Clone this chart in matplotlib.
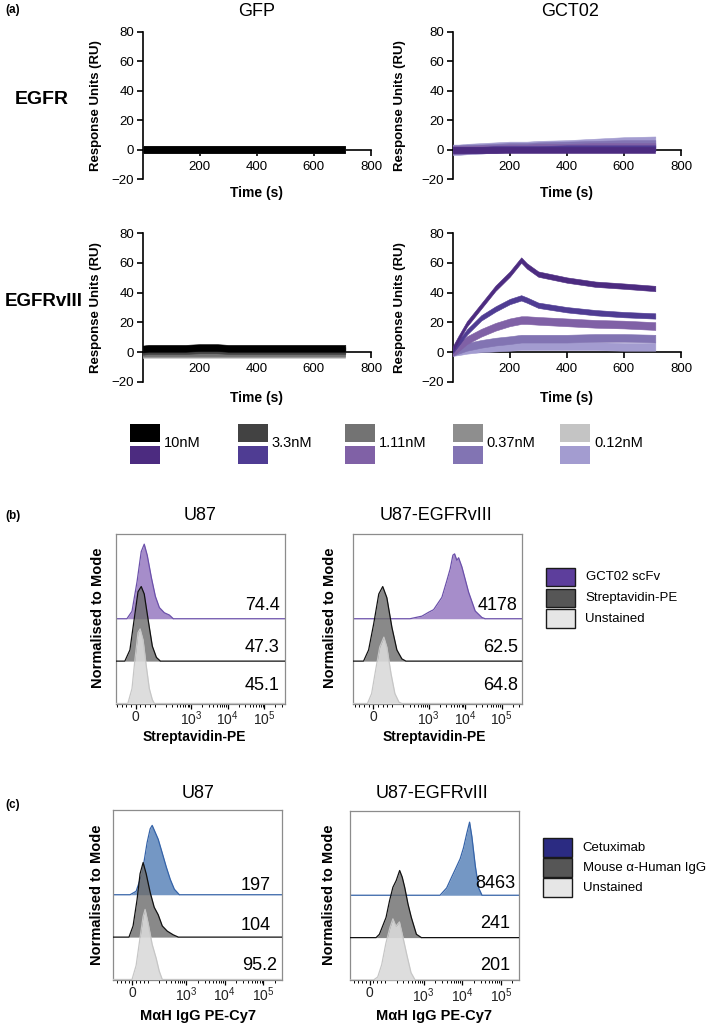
import numpy as np
import matplotlib
matplotlib.use("Agg")
import matplotlib.pyplot as plt
from matplotlib.patches import Rectangle

plt.rcParams['font.family'] = ['Liberation Sans', 'DejaVu Sans']
plt.rcParams['mathtext.fontset'] = 'custom'
plt.rcParams['mathtext.rm'] = 'Liberation Sans'
plt.rcParams['mathtext.it'] = 'Liberation Sans:italic'
plt.rcParams['mathtext.bf'] = 'Liberation Sans:bold'

W, H = 709, 1028

# ---------------- (a) SPR sensorgrams ----------------
t_s = [0, 20, 50, 100, 150, 200, 240, 260, 300, 400, 500, 600, 710]
conc = ['10nM', '3.3nM', '1.11nM', '0.37nM', '0.12nM']
grey = ['#000000', '#424242', '#737373', '#8e8e8e', '#c4c4c4']
purple = ['#4c2b80', '#4f3c93', '#8061a6', '#8274b3', '#a39cd0']

# GFP on EGFR
gfp_egfr = [
    [0, 0, 0, 0, 0, 0, 0, 0, 0, 0, 0, 0, 0],
    [0, 0, 0, 0, 0, 0, 0, 0, 0, 0, 0, 0, 0],
    [0, 0, 0, 0, 0, 0, 0, 0, 0, 0, 0, 0, 0],
    [0, 0, 0, 0, 0, 0, 0, 0, 0, 0, 0, 0, 0],
    [0, 0, 0, 0, 0, 0, 0, 0, 0, 0, 0, 0, 0],
]
gfp_egfr_nz = [2.3, 2.3, 2.3, 2.3, 2.3]

# GCT02 on EGFR
gct_egfr = [
    [0, 0, 0, 0, 0, 0, 0, 0, 0, 0, 0, 0, 0],
    [0, 0, 0, 0, 0.5, 0.5, 0.5, 0.5, 0.5, 1, 1, 1, 1],
    [0, 0, 0, 0.5, 0.5, 1, 1, 1, 1.5, 1.5, 2, 2, 2],
    [0, 0, 0.5, 0.5, 1, 1.5, 1.5, 1.5, 2, 2.5, 3, 3.5, 3.5],
    [0, 0, 0.5, 1, 1.5, 2, 2, 2, 2.5, 3, 4, 5, 5.5],
]
gct_egfr_nz = [2, 2, 2.5, 3, 3.5]

# GFP on EGFRvIII
gfp_viii = [
    [2, 2.5, 2.5, 2.5, 2.5, 3, 3, 3, 2.5, 2.5, 2.5, 2.5, 2.5],
    [0.5, 1, 1, 1, 1, 1.5, 1.5, 1.5, 1, 1, 1, 1, 1],
    [0, 0, 0, 0, 0, 0, 0, 0, 0, 0, 0, 0, 0],
    [-1, -1, -1, -1, -1, -1, -1, -1, -1, -1, -1, -1, -1],
    [-1.5, -1.5, -1.5, -1.5, -1.5, -1.5, -1.5, -1.5, -1.5, -1.5, -1.5, -1.5, -1.5],
]
gfp_viii_nz = [2.3, 2.3, 2.5, 2.5, 2.5]

# GCT02 on EGFRvIII
gct_viii = [
    [2, 9, 19, 31, 43, 52.5, 62, 58, 52.5, 48.5, 45.7, 44.4, 42.8],
    [1, 6, 13.5, 23, 29, 34, 36.5, 35, 31.5, 28.5, 26.5, 25.2, 24.3],
    [0, 3, 8, 13, 17, 20, 21.5, 21.5, 21, 20, 19, 18.5, 17.5],
    [0, 1.5, 3.5, 5.5, 7, 8, 9, 9, 9, 9, 9.5, 9.5, 9],
    [0, 0.5, 1.5, 2.5, 3, 3.5, 4, 4, 4, 4, 4, 3.5, 3.5],
]
gct_viii_nz = [1.8, 1.8, 2.6, 2.6, 2.6]

# ---------------- (b) Streptavidin-PE histograms ----------------
b_u87_gct_x = [-47, -20, 7, 29, 45, 61, 83, 105, 135, 185, 253, 325]
b_u87_gct_h = [0, 0.1, 0.5, 0.9, 1.0, 0.85, 0.55, 0.3, 0.15, 0.08, 0.05, 0]
b_u87_str_x = [-58, -31, -9, 12, 29, 45, 66, 88, 112, 144]
b_u87_str_h = [0, 0.15, 0.55, 0.93, 1.0, 0.9, 0.55, 0.2, 0.05, 0]
b_u87_uns_x = [-42, -20, -4, 12, 23, 39, 56, 72, 88, 99]
b_u87_uns_h = [0, 0.2, 0.6, 0.95, 1.0, 0.85, 0.5, 0.2, 0.05, 0]

b_viii_gct_x = [308, 655, 1000, 1371, 2312, 3170, 3907, 4634, 5152, 5960,
                6637, 8166, 12470, 18920, 28840, 35560]
b_viii_gct_h = [0, 0.04, 0.1, 0.14, 0.33, 0.59, 0.77, 0.98, 1.0, 0.9,
                0.94, 0.8, 0.41, 0.12, 0.02, 0]
b_viii_gct_peak = 0.87
b_viii_str_x = [-52, -25, 2, 29, 50, 72, 99, 135, 185, 239]
b_viii_str_h = [0, 0.15, 0.5, 0.9, 1.0, 0.85, 0.45, 0.15, 0.03, 0]
b_viii_uns_x = [-31, -9, 12, 34, 56, 72, 94, 119, 154, 185]
b_viii_uns_h = [0, 0.15, 0.5, 0.85, 1.0, 0.85, 0.45, 0.15, 0.02, 0]
b_viii_uns_peak = 0.89

b_mfi_u87 = ['74.4', '47.3', '45.1']
b_mfi_viii = ['4178', '62.5', '64.8']
b_legend = ['GCT02 scFv', 'Streptavidin-PE', 'Unstained']

# ---------------- (c) MaH IgG PE-Cy7 histograms ----------------
c_u87_cet_x = [-15, 25, 64, 97, 117, 132, 158, 189, 241, 306, 389, 495, 668]
c_u87_cet_h = [0, 0.05, 0.3, 0.75, 0.95, 1.0, 0.9, 0.8, 0.6, 0.4, 0.22, 0.08, 0]
c_u87_cet_peak = 0.93
c_u87_mou_x = [-22, 5, 31, 51, 71, 91, 117, 149, 189, 241, 325, 466, 630]
c_u87_mou_h = [0, 0.15, 0.5, 0.85, 1.0, 0.85, 0.6, 0.4, 0.3, 0.15, 0.08, 0.03, 0]
c_u87_uns_x = [-2, 25, 51, 71, 84, 104, 132, 168, 201, 241]
c_u87_uns_h = [0, 0.2, 0.6, 0.9, 1.0, 0.8, 0.5, 0.3, 0.12, 0]
c_u87_uns_peak = 0.94

c_viii_cet_x = [2667, 3963, 5346, 6559, 8870, 10810, 13190, 15520, 17820,
                21840, 26650, 32520]
c_viii_cet_h = [0, 0.1, 0.25, 0.35, 0.5, 0.65, 0.85, 1.0, 0.8, 0.4, 0.1, 0]
c_viii_cet_peak = 0.98
c_viii_mou_x = [42, 64, 107, 132, 161, 196, 241, 281, 325, 396, 483, 653, 881]
c_viii_mou_h = [0, 0.05, 0.3, 0.55, 0.75, 0.85, 1.0, 0.9, 0.75, 0.5, 0.3, 0.05, 0]
c_viii_mou_peak = 0.9
c_viii_uns_x = [26, 53, 79, 106, 134, 161, 193, 238, 293, 373, 474, 604]
c_viii_uns_h = [0, 0.05, 0.25, 0.6, 0.85, 1.0, 0.88, 0.95, 0.7, 0.4, 0.12, 0]
c_viii_uns_peak = 0.82

c_mfi_u87 = ['197', '104', '95.2']
c_mfi_viii = ['8463', '241', '201']
c_legend = ['Cetuximab', 'Mouse \u03b1-Human IgG', 'Unstained']

flow_ticks = [0, 1e3, 1e4, 1e5]
flow_ticklabels = ['0', '$10^3$', '$10^4$', '$10^5$']


fig = plt.figure(figsize=(W / 100, H / 100), dpi=100)


def px_axes(x0, y0, x1, y1):
    return fig.add_axes([x0 / W, 1 - y1 / H, (x1 - x0) / W, (y1 - y0) / H])


def spr_axes(box, curves, noise, cols):
    ax = px_axes(*box)
    for yc, nz, c in list(zip(curves, noise, cols))[::-1]:
        yc = np.array(yc, dtype=float)
        ax.fill_between(t_s, yc - nz, yc + nz, color=c, lw=0.4, zorder=3)
    ax.set_xlim(0, 800)
    ax.set_ylim(-20, 80)
    ax.spines['bottom'].set_position(('data', 0))
    ax.spines[['top', 'right']].set_visible(False)
    for s in ('left', 'bottom'):
        ax.spines[s].set_linewidth(1.2)
    ax.set_xticks([200, 400, 600, 800])
    ax.set_yticks([-20, 0, 20, 40, 60, 80])
    ax.tick_params(direction='out', length=4, width=1.2, labelsize=9.5, pad=2)
    ax.tick_params(axis='x', pad=4)
    ax.patch.set_visible(False)
    return ax


xl, xr = (142.7, 371), (452.7, 681)
r1, r2 = (31.7, 179.3), (233.3, 381.7)
spr_axes((xl[0], r1[0], xl[1], r1[1]), gfp_egfr, gfp_egfr_nz, grey)
spr_axes((xr[0], r1[0], xr[1], r1[1]), gct_egfr, gct_egfr_nz, purple)
spr_axes((xl[0], r2[0], xl[1], r2[1]), gfp_viii, gfp_viii_nz, grey)
spr_axes((xr[0], r2[0], xr[1], r2[1]), gct_viii, gct_viii_nz, purple)


def flow_axes(box, linscale, xlim):
    ax = px_axes(*box)
    ax.set_xscale('symlog', linthresh=100, linscale=linscale)
    ax.set_xlim(*xlim)
    ax.set_ylim(0, 4)
    ax.set_yticks([])
    ax.set_xticks(flow_ticks)
    ax.set_xticklabels(flow_ticklabels)
    minor = [-100, -75, -50, -25, 25, 50, 75] + \
        [k * 10 ** d for d in (2, 3, 4, 5) for k in range(1, 10)]
    ax.set_xticks([m for m in minor if xlim[0] < m < xlim[1]], minor=True)
    for s in ax.spines.values():
        s.set_color('#8c8c8c')
        s.set_linewidth(0.9)
    ax.tick_params(axis='x', which='major', length=3.5, width=0.9, color='k',
                   labelsize=10, pad=1, labelcolor='#222222')
    ax.tick_params(axis='x', which='minor', length=2.2, width=0.7, color='k')
    ax.patch.set_visible(False)
    return ax


PEAK = 1.76


def hist(ax, x, h, base, fill, edge, peak=1.0, alpha=1.0, z=2):
    xl_, xr_ = ax.get_xlim()
    xs = np.concatenate([[xl_], x, [xr_]])
    ys = base + PEAK * peak * np.concatenate([[0], h, [0]])
    ax.fill_between(xs, base, ys, color=fill, lw=0, alpha=alpha, zorder=z)
    ax.plot(xs, ys, color=edge, lw=0.9, zorder=z + 0.1)


# (b)
b_lim = (-108, 3.7e5)
ax = flow_axes((115.7, 534, 285, 703.5), 0.464, b_lim)
hist(ax, b_u87_gct_x, b_u87_gct_h, 2, '#a68dca', '#6b50aa')
hist(ax, b_u87_str_x, b_u87_str_h, 1, '#6c6c6c', '#111111', alpha=0.8, z=3)
hist(ax, b_u87_uns_x, b_u87_uns_h, 0, '#dadada', '#c6c6c6', alpha=0.9, z=4)
ax = flow_axes((353.3, 534, 522.3, 703.5), 0.464, b_lim)
hist(ax, b_viii_gct_x, b_viii_gct_h, 2, '#a68dca', '#6b50aa', peak=b_viii_gct_peak)
hist(ax, b_viii_str_x, b_viii_str_h, 1, '#6c6c6c', '#111111', alpha=0.8, z=3)
hist(ax, b_viii_uns_x, b_viii_uns_h, 0, '#dadada', '#c6c6c6', peak=b_viii_uns_peak,
     alpha=0.9, z=4)

# (c)
c_lim = (-130, 3.0e5)
ax = flow_axes((112.7, 810, 281.7, 979.5), 0.355, c_lim)
hist(ax, c_u87_cet_x, c_u87_cet_h, 2, '#7497c4', '#3563a8', peak=c_u87_cet_peak)
hist(ax, c_u87_mou_x, c_u87_mou_h, 1, '#6c6c6c', '#111111', alpha=0.8, z=3)
hist(ax, c_u87_uns_x, c_u87_uns_h, 0, '#dadada', '#c6c6c6', peak=c_u87_uns_peak,
     alpha=0.9, z=4)
ax = flow_axes((350, 810.5, 519.3, 980), 0.355, c_lim)
hist(ax, c_viii_cet_x, c_viii_cet_h, 2, '#7497c4', '#3563a8', peak=c_viii_cet_peak)
hist(ax, c_viii_mou_x, c_viii_mou_h, 1, '#6c6c6c', '#111111', peak=c_viii_mou_peak,
     alpha=0.8, z=3)
hist(ax, c_viii_uns_x, c_viii_uns_h, 0, '#dadada', '#c6c6c6', peak=c_viii_uns_peak,
     alpha=0.9, z=4)

# overlay in pixel coordinates for labels, legends and numbers
ov = fig.add_axes([0, 0, 1, 1])
ov.set_zorder(10)
ov.set_xlim(0, W)
ov.set_ylim(H, 0)
ov.axis('off')

ov.text(5, 10, '(a)', fontsize=8.5, fontweight='bold', va='center')
ov.text(257, 11, 'GFP', fontsize=13, ha='center', va='center')
ov.text(570, 11, 'GCT02', fontsize=13, ha='center', va='center')
ov.text(42, 100, 'EGFR', fontsize=14, fontweight='bold', ha='center', va='center')
ov.text(44, 302, 'EGFRvIII', fontsize=13.5, fontweight='bold', ha='center', va='center')
for cx, cy in [(96, 105.5), (400, 105.5), (96, 307.5), (400, 307.5)]:
    ov.text(cx, cy, 'Response Units (RU)', fontsize=9.5, fontweight='bold',
            rotation=90, ha='center', va='center')
for cx, cy in [(257, 193), (567, 193), (257, 398), (567, 398)]:
    ov.text(cx, cy, 'Time (s)', fontsize=10, fontweight='bold', ha='center', va='center')

for i, lab in enumerate(conc):
    x0 = 130 + i * 107.6
    ov.add_patch(Rectangle((x0, 424), 30, 18, color=grey[i], lw=0))
    ov.add_patch(Rectangle((x0, 446), 30, 18, color=purple[i], lw=0))
    ov.text(x0 + 34, 443, lab, fontsize=10.5, va='center')

ov.text(5, 516, '(b)', fontsize=8.5, fontweight='bold', va='center')
ov.text(200, 515, 'U87', fontsize=13, ha='center', va='center')
ov.text(436, 515, 'U87-EGFRvIII', fontsize=13, ha='center', va='center')
for cx in (98, 330):
    ov.text(cx, 618, 'Normalised to Mode', fontsize=10.5, fontweight='bold',
            rotation=90, ha='center', va='center')
for cx in (194, 434):
    ov.text(cx, 737, 'Streptavidin-PE', fontsize=10, fontweight='bold',
            ha='center', va='center')
for lab, cy in zip(b_mfi_u87, (606, 647, 686)):
    ov.text(279.5, cy, lab, fontsize=13, ha='right', va='center')
for lab, cy in zip(b_mfi_viii, (606, 647, 686)):
    ov.text(518, cy, lab, fontsize=13, ha='right', va='center')
for lab, c, y0 in zip(b_legend, ['#5d3e9c', '#565656', '#e6e6e6'], (567.7, 588.5, 609.3)):
    ov.add_patch(Rectangle((545.7, y0), 29.3, 18.5, facecolor=c, edgecolor='#1a1a1a', lw=1))
    ov.text(585.5, y0 + 9.5, lab, fontsize=9.5, va='center')

ov.text(5, 805, '(c)', fontsize=8.5, fontweight='bold', va='center')
ov.text(198, 793, 'U87', fontsize=13, ha='center', va='center')
ov.text(432, 793, 'U87-EGFRvIII', fontsize=13, ha='center', va='center')
for cx in (97, 329):
    ov.text(cx, 895, 'Normalised to Mode', fontsize=10.5, fontweight='bold',
            rotation=90, ha='center', va='center')
for cx in (198, 434):
    ov.text(cx, 1016, 'M\u03b1H IgG PE-Cy7', fontsize=10.5, fontweight='bold',
            ha='center', va='center')
for lab, cx, cy in zip(c_mfi_u87, (271, 271, 277), (885, 926, 966)):
    ov.text(cx, cy, lab, fontsize=13, ha='right', va='center')
for lab, cx, cy in zip(c_mfi_viii, (515, 510, 510), (883, 924, 965)):
    ov.text(cx, cy, lab, fontsize=13, ha='right', va='center')
for lab, c, y0 in zip(c_legend, ['#2b2b82', '#565656', '#e6e6e6'], (838.3, 858.2, 878.4)):
    ov.add_patch(Rectangle((543.3, y0), 28.5, 18.5, facecolor=c, edgecolor='#1a1a1a', lw=1))
    ov.text(582.7, y0 + 9.5, lab, fontsize=9.5, va='center')

fig.savefig('out.png', dpi=100)
